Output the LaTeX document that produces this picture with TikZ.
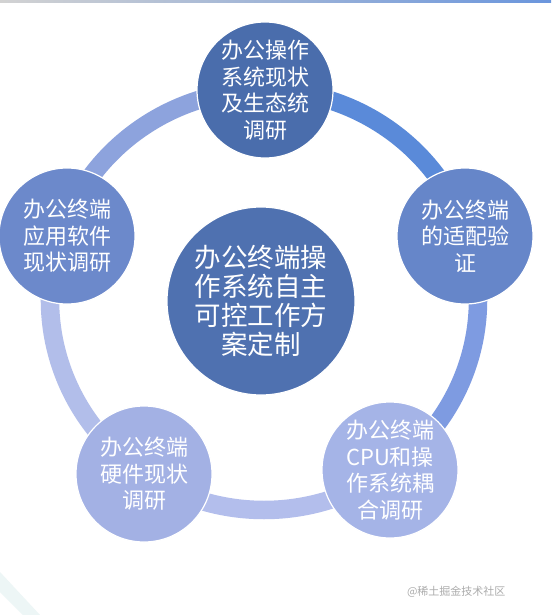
\documentclass[tikz,border=0pt]{standalone}
\usepackage{fontspec}
\setmainfont{Noto Sans CJK SC}
\definecolor{cTop}{HTML}{4A6DAC}
\definecolor{cCenter}{HTML}{4F71B0}
\definecolor{cRight}{HTML}{6686C9}
\definecolor{cLeft}{HTML}{6C89CB}
\definecolor{cBR}{HTML}{A5B4E7}
\definecolor{cBL}{HTML}{A3B1E4}
\definecolor{rA}{HTML}{5A8AD9}
\definecolor{rB}{HTML}{7E9BE1}
\definecolor{rC}{HTML}{B3BEEC}
\definecolor{rD}{HTML}{B2BEEA}
\definecolor{rE}{HTML}{8DA3DD}
\begin{document}
\begin{tikzpicture}[x=1pt,y=-1pt,
  ringarc/.style={line width=18.5pt},
  outer/.style={circle, inner sep=0pt, minimum size=136pt, draw=white, line width=1.2pt,
    text=white, align=center, font=\fontsize{22}{26.5}\selectfont},
  inner/.style={circle, inner sep=0pt, minimum size=188pt, draw=white, line width=1.2pt,
    text=white, align=center, font=\fontsize{26.5}{29}\selectfont}]
\useasboundingbox (0,0) rectangle (551,615);
\fill[white] (0,0) rectangle (551,615);
\shade[left color=gray!35, right color=rA!90] (0,0) rectangle (551,2.5);
\fill[teal!7] (0,572) -- (0,592) -- (23,615) -- (40,615) -- cycle;
% ring
\coordinate (rc) at (264,300);
\draw[ringarc, rA] (rc) ++(-92:214 and 210) arc[start angle=-92, end angle=-15, x radius=214, y radius=210];
\draw[ringarc, rB] (rc) ++(-19:214 and 210) arc[start angle=-19, end angle=56, x radius=214, y radius=210];
\draw[ringarc, rC] (rc) ++(52:214 and 210) arc[start angle=52, end angle=128, x radius=214, y radius=210];
\draw[ringarc, rD] (rc) ++(124:214 and 210) arc[start angle=124, end angle=200, x radius=214, y radius=210];
\draw[ringarc, rE] (rc) ++(196:214 and 210) arc[start angle=196, end angle=272, x radius=214, y radius=210];
% circles
\node[inner, fill=cCenter] (center) at (261,301) {办公终端操\\作系统自主\\可控工作方\\案定制};
\node[outer, fill=cTop] (top) at (265,90) {办公操作\\系统现状\\及生态统\\调研};
\node[outer, fill=cRight] (right) at (465,236) {办公终端\\的适配验\\证};
\node[outer, fill=cBR] (br) at (390,470) {办公终端\\CPU和操\\作系统耦\\合调研};
\node[outer, fill=cBL] (bl) at (144,474) {办公终端\\硬件现状\\调研};
\node[outer, fill=cLeft] (left) at (67,236) {办公终端\\应用软件\\现状调研};
% watermark
\node[text=gray!65, font=\fontsize{11}{13}\selectfont, anchor=east] (wm) at (509,592) {@稀土掘金技术社区};
\end{tikzpicture}
\end{document}
